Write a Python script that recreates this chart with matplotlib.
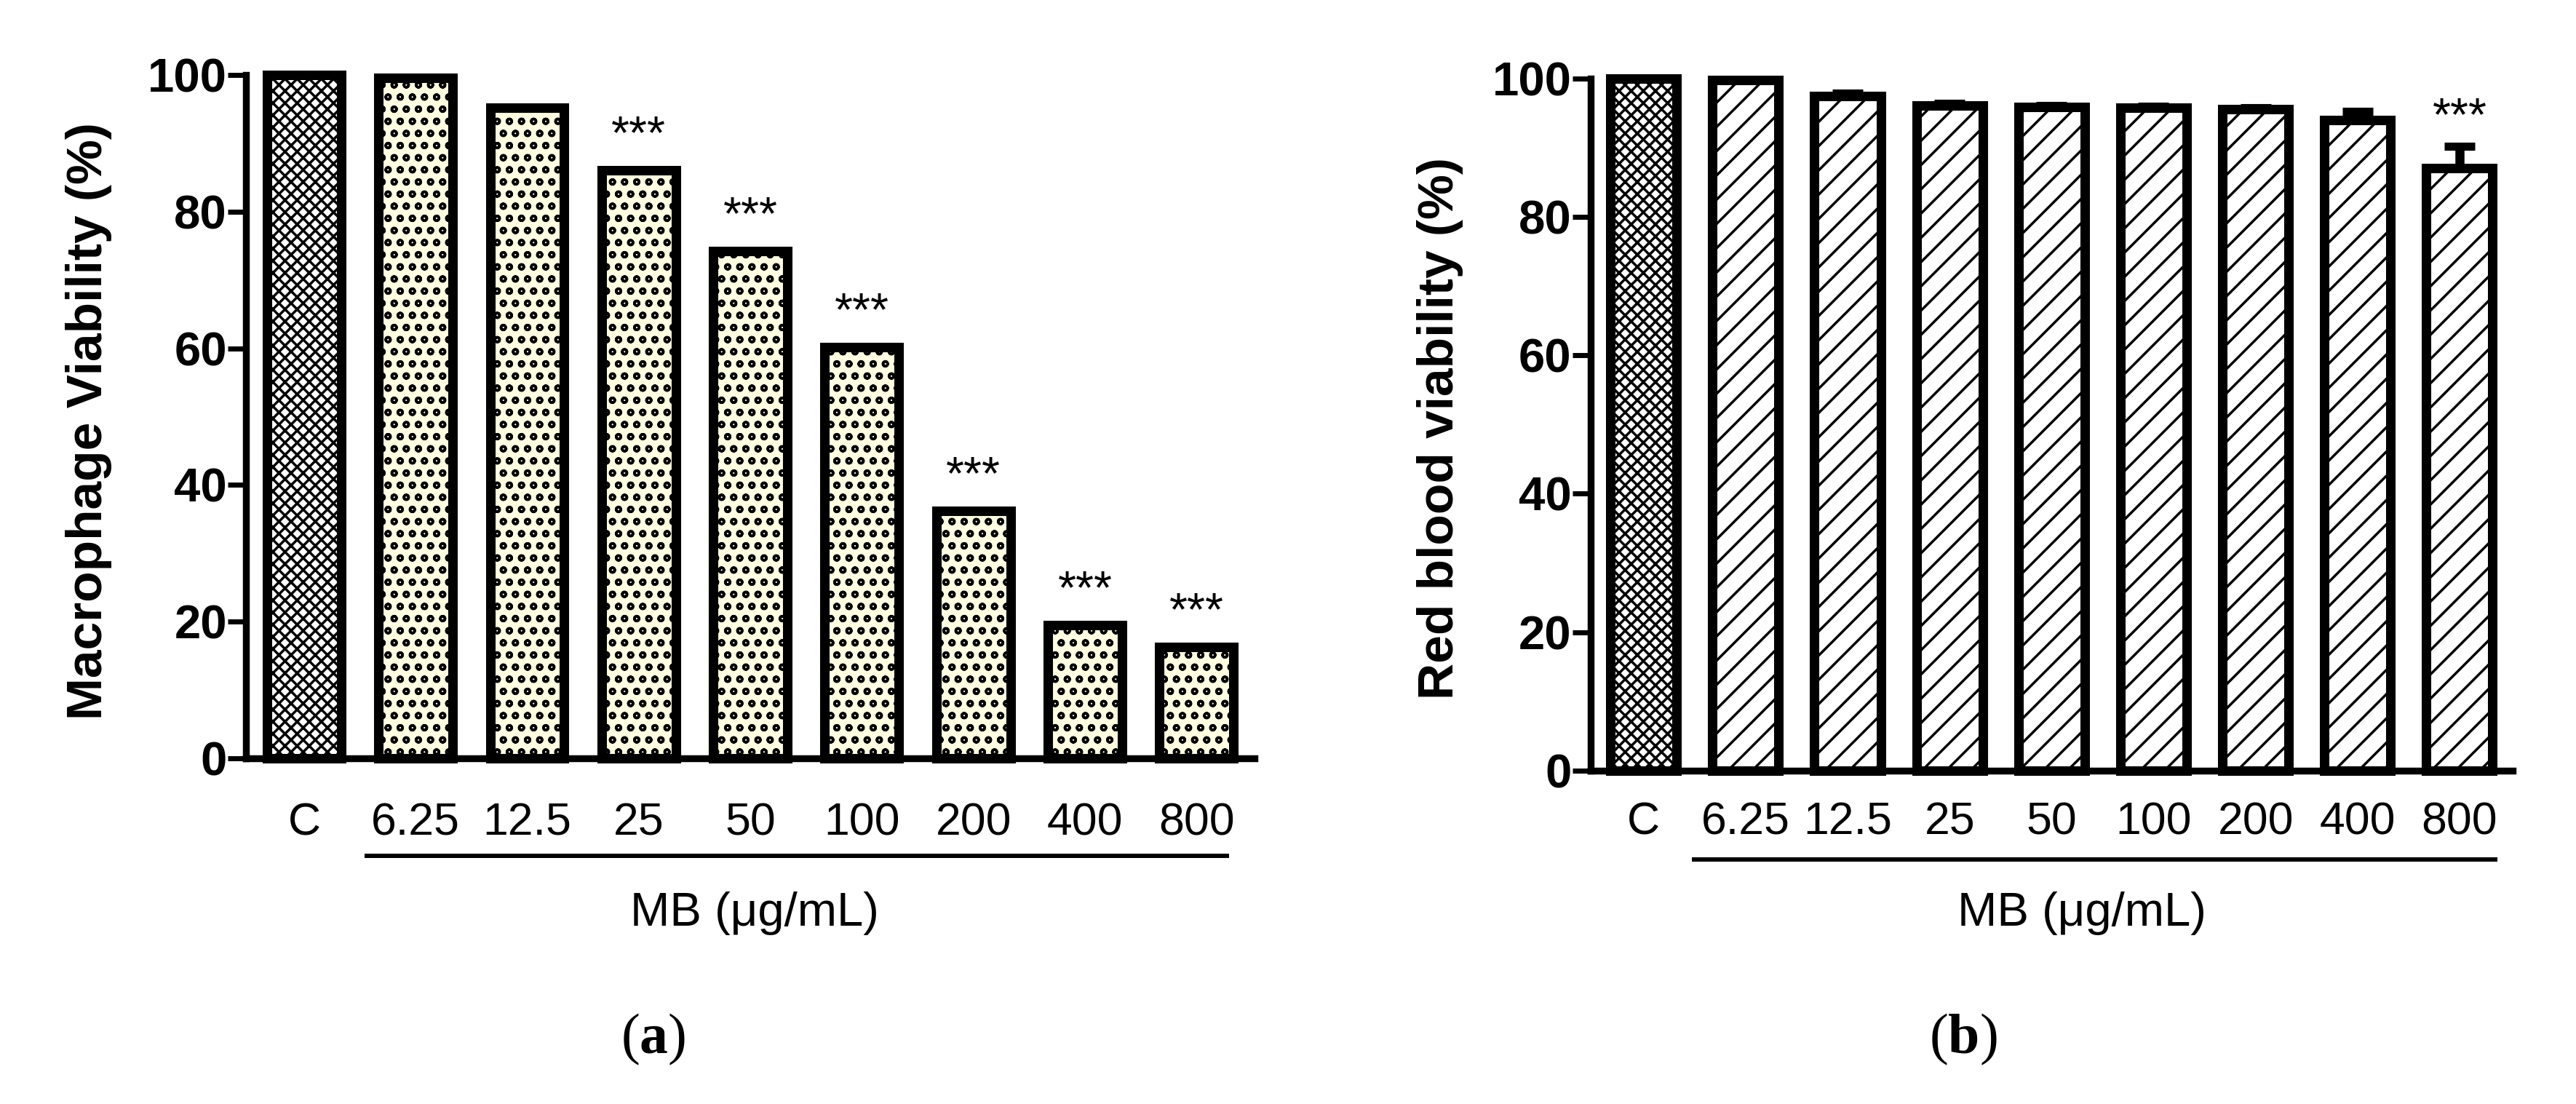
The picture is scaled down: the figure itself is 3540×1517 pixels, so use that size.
import matplotlib
matplotlib.use('Agg')
import matplotlib.pyplot as plt
import numpy as np

# values
doses = ['C', '6.25', '12.5', '25', '50', '100', '200', '400', '800']
macrophage = [100, 99.6, 95.2, 86.0, 74.2, 60.2, 36.2, 19.5, 16.3]
macro_sig = ['', '', '', '***', '***', '***', '***', '***', '***']
rbc = [100, 99.7, 97.4, 96.1, 95.9, 95.8, 95.5, 94.0, 87.0]
rbc_err = [0, 0, 0.4, 0.3, 0.2, 0.2, 0.2, 1.2, 3.2]
rbc_sig = ['', '', '', '', '', '', '', '', '***']

plt.rcParams['hatch.linewidth'] = 2.5
plt.rcParams['mathtext.fontset'] = 'custom'
plt.rcParams['mathtext.rm'] = 'Liberation Serif'
plt.rcParams['mathtext.bf'] = 'Liberation Serif:bold'

SANS = ['Liberation Sans', 'DejaVu Sans']

fig = plt.figure(figsize=(35.41, 15.17), dpi=100)
ax1 = fig.add_axes([0.0955, 0.3131, 0.3914, 0.6190])
ax2 = fig.add_axes([0.6173, 0.3019, 0.3578, 0.6272])

x = np.arange(len(doses))


def style(ax, ylabel, label_x, xpad, line_y, line_x, mb_x, mb_y):
    ax.set_xlim(-0.52, 8.52)
    ax.set_ylim(0, 100)
    for s in ['top', 'right']:
        ax.spines[s].set_visible(False)
    for s in ['left', 'bottom']:
        ax.spines[s].set_linewidth(6.8)
    ax.set_yticks([0, 20, 40, 60, 80, 100])
    ax.tick_params(axis='y', length=18, width=5, pad=1, labelsize=47)
    for lab in ax.get_yticklabels():
        lab.set_fontweight('bold')
        lab.set_family(SANS)
    ax.set_xticks(x, doses)
    ax.tick_params(axis='x', length=0, pad=xpad, labelsize=45)
    for lab in ax.get_xticklabels():
        lab.set_family(SANS)
    ax.set_ylabel(ylabel, fontsize=50, fontweight='bold', family=SANS)
    ax.yaxis.set_label_coords(label_x, 0.494)
    # line under the MB doses
    ax.plot(line_x, [line_y, line_y], transform=ax.get_xaxis_transform(),
            color='black', lw=4.3, clip_on=False, solid_capstyle='butt')
    ax.text(mb_x, mb_y, 'MB (μg/mL)', transform=ax.get_xaxis_transform(),
            ha='center', va='center', fontsize=47, family=SANS)


# (a) macrophages
bars = ax1.bar(x, macrophage, width=0.665, color=['white'] + ['#fffde2'] * 8,
               edgecolor='black', linewidth=9.4, zorder=2, clip_on=False)
for i, b in enumerate(bars):
    b.set_hatch('xx' if i == 0 else 'o')
for i, s in enumerate(macro_sig):
    if s:
        ax1.text(i, macrophage[i] + 3.2, s, ha='center', va='baseline',
                 fontsize=46, family=SANS)
style(ax1, 'Macrophage Viability (%)', -0.1328, 43, -0.1427, [0.54, 8.29], 4.04, -0.2268)

# (b) red blood cells
bars = ax2.bar(x, rbc, width=0.65, color='white', edgecolor='black',
               linewidth=9.4, zorder=2, clip_on=False)
for i, b in enumerate(bars):
    b.set_hatch('xx' if i == 0 else '/')
idx = [i for i, e in enumerate(rbc_err) if e > 0]
eb = ax2.errorbar(x[idx], [rbc[i] for i in idx],
                  yerr=[np.zeros(len(idx)), [rbc_err[i] for i in idx]],
                  fmt='none', ecolor='black', elinewidth=9, capsize=15,
                  capthick=8, zorder=3)
for art in eb.get_children():
    art.set_clip_on(False)
for i, s in enumerate(rbc_sig):
    if s:
        ax2.text(i, rbc[i] + rbc_err[i] + 2.3, s, ha='center', va='baseline',
                 fontsize=46, family=SANS)
style(ax2, 'Red blood viability (%)', -0.138, 30, -0.128, [0.475, 8.37], 4.3, -0.206)

fig.text(0.2536, 0.0587, r'($\mathbf{a}$)', ha='center', va='center',
         fontsize=56, family='Liberation Serif')
fig.text(0.762, 0.0587, r'($\mathbf{b}$)', ha='center', va='center',
         fontsize=56, family='Liberation Serif')

fig.savefig('out.png', dpi=100)
